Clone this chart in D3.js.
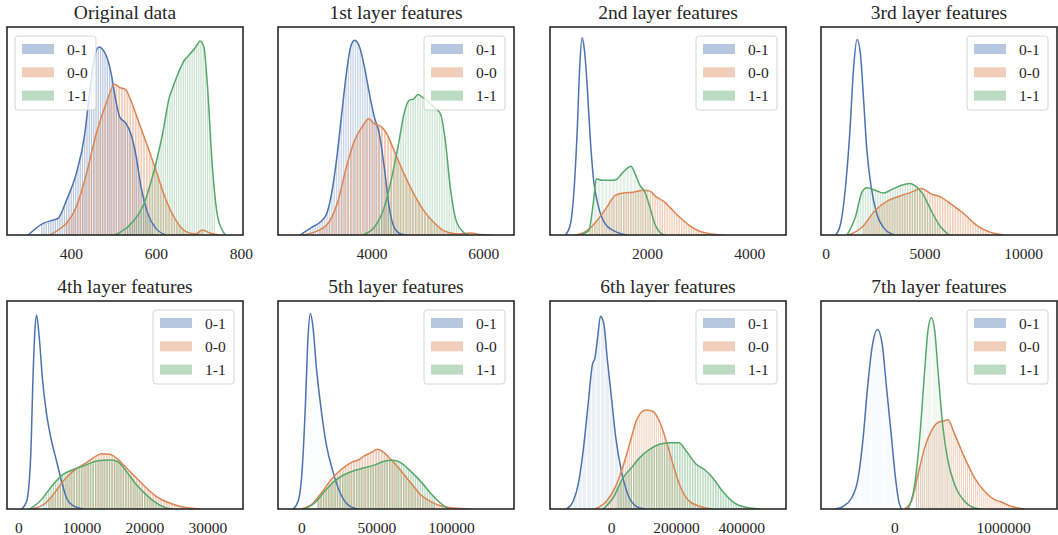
<!DOCTYPE html>
<html>
<head>
<meta charset="utf-8">
<script src="https://cdn.jsdelivr.net/npm/d3@7"></script>
<style>
  body { margin: 0; background: #fff; }
</style>
</head>
<body>
<svg id="chart" width="1058" height="535"></svg>
<script>
// panel titles, x ranges and tick values
const titles = ["Original data", "1st layer features", "2nd layer features", "3rd layer features",
                "4th layer features", "5th layer features", "6th layer features", "7th layer features"];
const xDomains = [[250, 805], [2330, 6550], [105, 4720], [-240, 11710],
                  [-1790, 35640], [-15700, 142100], [-187700, 537800], [-676000, 1495000]];
const xTicks = [[400, 600, 800], [4000, 6000], [2000, 4000], [0, 5000, 10000],
                [0, 10000, 20000, 30000], [0, 50000, 100000], [0, 200000, 400000], [0, 1000000]];
const labels = ["0-1", "0-0", "1-1"];
const colors = ["#4C72B0", "#DD8452", "#55A868"];
const legendLeft = [true, false, false, false, false, false, false, false];

// kde curves: [value, density (% of panel height)]
const orig_01 = [[300,0],[335,5.6],[359,7.2],[370,8],[390,16.8],[413,29.6],[433,48.8],[444,68],[456,85.6],[466,90.4],[483,86.4],[495,77.6],[503,68],[515,56.8],[530,53.6],[541,48.8],[554,37.6],[565,23.2],[581,10.4],[600,3.2],[624,0]];
const orig_00 = [[351,0],[370,2.4],[390,5.6],[413,13.6],[437,29.6],[460,48.8],[483,63.2],[503,72.5],[515,70.9],[529,69.9],[541,64.8],[561,53.6],[581,42.4],[600,31.2],[624,16.8],[647,7.2],[671,1.6],[694,0.5],[709,2.4],[729,0.8],[748,0]];
const orig_11 = [[503,0],[515,1.1],[546,6.4],[569,13.6],[592,28],[616,48.8],[632,66.4],[639,70.4],[659,80.8],[667,84],[674,85.6],[694,90.4],[704,93.3],[713,90.4],[721,72.8],[733,32.8],[744,10.4],[756,2.4],[764,0]];

const l1_01 = [[2726,0],[2932,3.7],[3080,6.1],[3198,10.1],[3286,19.7],[3375,35.8],[3463,56.7],[3552,77.5],[3628,90.4],[3699,93.6],[3788,90.4],[3876,80.7],[3965,67.9],[4053,56.7],[4142,48.6],[4230,32.6],[4319,13.3],[4407,3.7],[4525,0.5],[4614,0]];
const l1_00 = [[2755,0],[3050,2.1],[3257,6.9],[3404,16.5],[3552,32.6],[3699,45.4],[3847,52.6],[3953,55.9],[4053,53.5],[4171,52.2],[4260,49.4],[4407,40.6],[4584,29.4],[4761,19.7],[4938,11.7],[5115,6.1],[5292,2.1],[5528,0.5],[5764,1.0],[5941,0.2],[6118,0]];
const l1_11 = [[3876,0.5],[4053,3.7],[4230,13.3],[4378,29.4],[4496,45.4],[4584,58.3],[4673,64.7],[4761,65.5],[4832,67.6],[4909,66.3],[4997,64.7],[5115,61.5],[5233,58.3],[5322,45.4],[5410,23],[5499,8.5],[5617,2.1],[5735,0]];

const l2_01 = [[408,0],[505,5.3],[570,19.8],[635,48.9],[687,81.1],[732,94.8],[777,89.2],[829,73.1],[894,45.6],[958,26.3],[1055,13.4],[1185,5.3],[1347,2.1],[1508,0.5],[1605,0]];
const l2_00 = [[602,0],[829,2.1],[1023,6.9],[1217,13.4],[1379,19],[1541,20.2],[1735,20.6],[1929,21.5],[2058,21.1],[2188,18.2],[2349,15.8],[2446,13.4],[2641,8.5],[2835,4.5],[3029,1.8],[3255,0.5],[3482,0]];
const l2_11 = [[699,0],[861,2.1],[958,16.6],[1010,27.1],[1120,26.3],[1282,26.3],[1398,26.6],[1508,29.5],[1605,31.9],[1690,33.1],[1767,29.5],[1864,23.9],[1961,20.6],[2058,13.4],[2155,5.3],[2252,1.3],[2349,0]];

const l3_01 = [[500,0],[750,5.3],[1000,23.1],[1217,49],[1417,81.1],[1583,94],[1750,87.6],[1917,65],[2083,40.8],[2300,23.1],[2583,10.2],[2917,3.7],[3333,0.5],[3500,0]];
const l3_00 = [[1167,0],[1833,3.7],[2500,11.8],[3167,16.6],[3833,19],[4333,20.6],[4833,22.3],[5333,19.8],[5833,18.2],[6333,15],[7000,10.2],[7667,4.5],[8333,1.3],[9000,0]];
const l3_11 = [[1083,0],[1500,8.5],[1833,20.6],[2083,22.7],[2500,21.5],[2917,20.2],[3333,21.8],[3833,23.9],[4250,24.7],[4500,23.9],[4917,19.8],[5333,11.8],[5833,3.7],[6250,0]];

const l4_01 = [[537,0],[1327,3.7],[1959,24.7],[2370,66.6],[2639,86],[2907,93.2],[3318,82.7],[3855,61.8],[4487,45.6],[5277,32.7],[6067,23.1],[6857,13.4],[7647,5.3],[8700,1.6],[10280,0]];
const l4_00 = [[2370,0.2],[4013,2.1],[5530,6.9],[7110,13.4],[8700,18.2],[10807,22.3],[12387,25.5],[13177,26.6],[14495,26.3],[15811,23.9],[17128,19.8],[18708,15],[20288,10.2],[21868,6.1],[23975,2.9],[26082,1],[28715,0]];
const l4_11 = [[1843,0],[3423,3.7],[5530,11.8],[7110,16.6],[8700,19],[10280,20.6],[11860,22.6],[13440,23.4],[14757,23.5],[15811,22.7],[17128,18.2],[18708,11.8],[20288,6.9],[21868,2.9],[23448,0.5],[24500,0]];

const l5_01 = [[-5570,0],[-2254,3.7],[398,18.2],[2652,50.5],[4376,82.7],[5967,94],[7690,87.6],[9945,68.2],[13260,47.3],[16575,31.1],[20950,18.2],[25390,8.5],[30900,2.1],[37530,0]];
const l5_00 = [[0,0],[6630,2.1],[13260,7.7],[19890,14.2],[26520,19],[33150,22.3],[38650,23.9],[41970,25.5],[46410,27.1],[50790,28.7],[55230,27.1],[59670,23.9],[64050,20.6],[68490,16.6],[73990,11.8],[79560,6.9],[86190,3.7],[92820,1.6],[101640,0.5],[112710,0]];
const l5_11 = [[2188,0],[8818,2.9],[15450,8.5],[22080,13.4],[28710,16.6],[35340,18.5],[41970,19.8],[48600,21.1],[54100,22.7],[60730,23.4],[66300,22.3],[72930,18.2],[79560,13.4],[86190,7.7],[92820,2.9],[98320,0]];

const l6_01 = [[-136600,0],[-116400,3.7],[-101100,11.8],[-85760,27.9],[-70450,50.5],[-56970,69.8],[-49930,72.3],[-41660,82],[-32470,92.7],[-22360,89.2],[-12250,73.1],[1225,53.7],[14400,34.4],[31850,18.2],[52070,6.9],[77800,1.3],[103200,0]];
const l6_00 = [[-49930,0],[-14090,3.7],[16540,11.8],[41960,23.1],[62480,34.4],[77800,42.4],[93100,46.5],[108400,47.6],[128700,46.9],[148200,42.4],[169700,32.7],[190600,21.5],[210400,11.8],[235900,4.5],[271700,1.3],[312400,0]];
const l6_11 = [[-24500,0],[6130,5.3],[36760,15],[62480,19.8],[87900,24.7],[118500,28.7],[148200,31.1],[179800,31.9],[208300,31.9],[231000,27.9],[261600,21.5],[287000,19],[312400,15],[343000,8.5],[378900,2.9],[414700,0.8],[455500,0]];

const l7_01 = [[-547700,0],[-471500,1.3],[-394500,5.3],[-333900,15],[-288000,34.4],[-247700,58.5],[-205500,77.9],[-156000,86.3],[-113800,79.5],[-73400,58.5],[-27500,34.4],[9200,15],[39400,3.7],[64200,0]];
const l7_00 = [[94500,0],[156000,3.7],[216500,16.6],[278000,29.5],[339400,37.6],[400000,41.6],[461500,42.4],[491700,42.9],[553200,36],[644900,24.7],[736700,15],[828500,8.5],[920100,4.5],[981600,3.4],[1073000,1.3],[1195000,0]];
const l7_11 = [[124800,0],[186200,11.8],[232100,34.4],[278000,66.6],[308200,86],[339400,91.9],[369700,86],[400000,66.6],[445900,39.2],[491700,23.1],[553200,11.8],[644900,3.7],[736700,0.5],[797900,0]];

const curves = [
  [orig_01, orig_00, orig_11], [l1_01, l1_00, l1_11], [l2_01, l2_00, l2_11], [l3_01, l3_00, l3_11],
  [l4_01, l4_00, l4_11], [l5_01, l5_00, l5_11], [l6_01, l6_00, l6_11], [l7_01, l7_00, l7_11]
];
const nBins = 50;
const FONT = "'Liberation Serif', 'Times New Roman', serif";

const svg = d3.select("#chart");
const colLeft = [7, 278, 550, 821];
const rowTop = [27, 301];
const W = 236, H = 208;
const edgeW = 1.0; // white bar edge

titles.forEach((title, p) => {
  const x0 = colLeft[p % 4], y0 = rowTop[Math.floor(p / 4)];
  const g = svg.append("g").attr("transform", `translate(${x0},${y0})`);
  const x = d3.scaleLinear().domain(xDomains[p]).range([0, W]);
  const y = d3.scaleLinear().domain([0, 100]).range([H, 0]);

  g.append("clipPath").attr("id", "ax" + p)
    .append("rect").attr("width", W).attr("height", H);
  const plot = g.append("g").attr("clip-path", `url(#ax${p})`);

  const area = d3.area().x(d => x(d[0])).y0(H).y1(d => y(d[1])).curve(d3.curveMonotoneX);
  const line = d3.line().x(d => x(d[0])).y(d => y(d[1])).curve(d3.curveMonotoneX);

  // histogram bars (narrow bins, white edges) under each kde
  curves[p].forEach((c, s) => {
    const lo0 = c[0][0], hi0 = c[c.length - 1][0];
    const pad = (hi0 - lo0) * 0.09;
    const lo = lo0 + pad, hi = hi0 - pad;
    const id = `h${p}_${s}`;
    g.append("clipPath").attr("id", id).append("path").attr("d", area(c));
    const hg = plot.append("g").attr("clip-path", `url(#${id})`);
    const bins = d3.range(nBins).map(i => [lo + (hi - lo) * i / nBins, lo + (hi - lo) * (i + 1) / nBins]);
    hg.selectAll("rect").data(bins).enter().append("rect")
      .attr("x", d => x(d[0]) + edgeW / 2)
      .attr("width", d => Math.max(0, x(d[1]) - x(d[0]) - edgeW))
      .attr("y", 0).attr("height", H)
      .attr("fill", colors[s]).attr("fill-opacity", 0.4);
  });

  curves[p].forEach((c, s) => {
    plot.append("path").attr("d", line(c))
      .attr("fill", "none").attr("stroke", colors[s]).attr("stroke-width", 1.5);
  });

  // frame
  g.append("rect").attr("width", W).attr("height", H)
    .attr("fill", "none").attr("stroke", "#262626").attr("stroke-width", 1.6);

  // x tick labels
  const axis = d3.axisBottom(x).tickValues(xTicks[p]).tickFormat(d3.format("d")).tickSize(0).tickPadding(13);
  const ax = g.append("g").attr("transform", `translate(0,${H})`).call(axis)
    .attr("font-family", FONT).attr("font-size", 15.5);
  ax.select(".domain").remove();
  ax.selectAll("text").attr("fill", "#262626");

  // title
  g.append("text").attr("x", W / 2).attr("y", -8)
    .attr("text-anchor", "middle").attr("font-family", FONT)
    .attr("font-size", 19.5).attr("fill", "#262626").text(title);

  // legend
  const lw = 81, lh = 74;
  const lx = legendLeft[p] ? 8 : W - 9 - lw;
  const lg = g.append("g").attr("transform", `translate(${lx},9)`);
  lg.append("rect").attr("width", lw).attr("height", lh).attr("rx", 3)
    .attr("fill", "#fff").attr("fill-opacity", 0.8)
    .attr("stroke", "#cccccc").attr("stroke-width", 0.8);
  labels.forEach((lab, s) => {
    const cy = 13 + s * 23.3;
    lg.append("rect").attr("x", 7).attr("y", cy - 5).attr("width", 32).attr("height", 10)
      .attr("fill", colors[s]).attr("fill-opacity", 0.4);
    lg.append("text").attr("x", 52).attr("y", cy + 5.5).attr("font-family", FONT)
      .attr("font-size", 15.5).attr("fill", "#262626").text(lab);
  });
});
</script>
</body>
</html>
